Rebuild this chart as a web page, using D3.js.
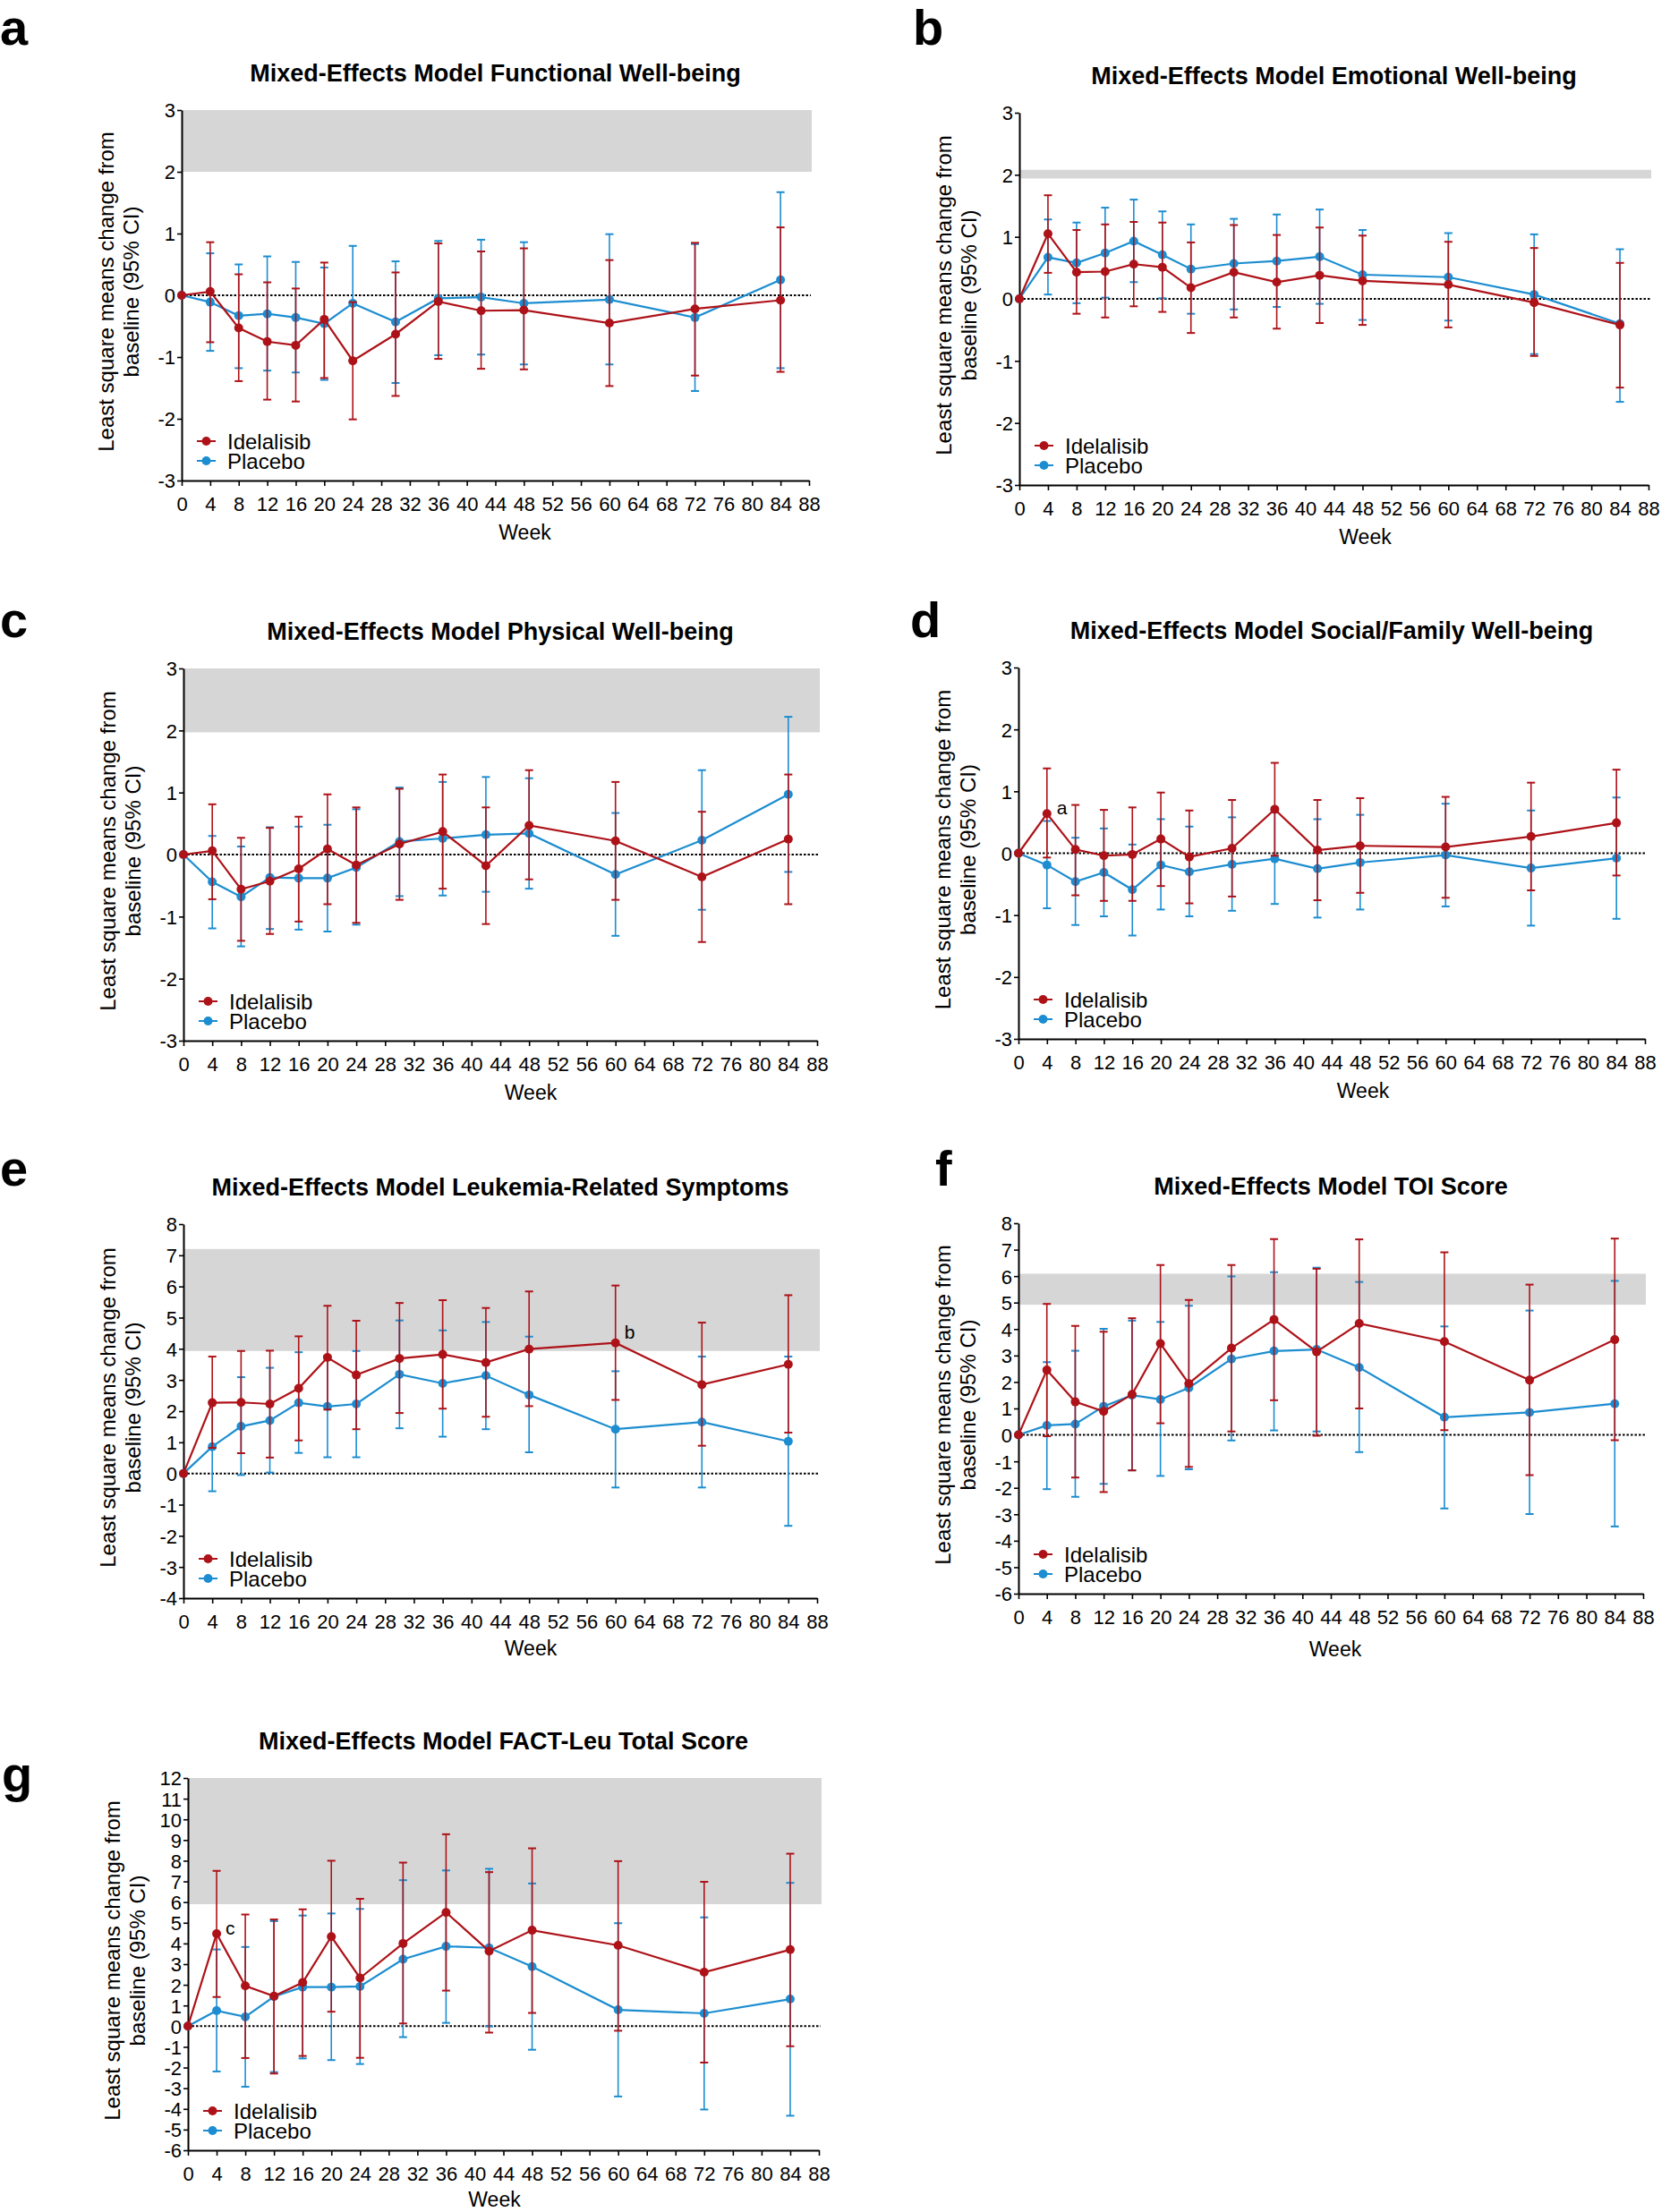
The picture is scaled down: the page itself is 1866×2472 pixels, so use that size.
<!DOCTYPE html>
<html><head><meta charset="utf-8">
<script src="https://cdn.jsdelivr.net/npm/d3@7/dist/d3.min.js"></script>
<style>
body{margin:0;background:#fff}
svg text{font-family:"Liberation Sans",Arial,Helvetica,sans-serif;fill:#000}
</style>
</head><body>
<svg id="chart" width="1866" height="2472"></svg>
<script>
// ---------- shared categories / ticks ----------
const weeks = [0,4,8,12,16,20,24,30,36,42,48,60,72,84];
const xTickValues = [0,4,8,12,16,20,24,28,32,36,40,44,48,52,56,60,64,68,72,76,80,84,88];
const seriesNames = ["Idelalisib","Placebo"];

// ---------- a: Functional Well-being ----------
const fwbIdeMean = [0,0.06,-0.53,-0.75,-0.81,-0.39,-1.06,-0.63,-0.10,-0.25,-0.24,-0.45,-0.22,-0.08];
const fwbIdeLo   = [0,-0.76,-1.39,-1.69,-1.72,-1.34,-2.01,-1.63,-1.03,-1.19,-1.20,-1.47,-1.30,-1.24];
const fwbIdeHi   = [0,0.86,0.34,0.21,0.11,0.53,-0.11,0.37,0.84,0.71,0.76,0.57,0.85,1.10];
const fwbPlaMean = [0,-0.11,-0.33,-0.30,-0.36,-0.46,-0.13,-0.43,-0.05,-0.03,-0.13,-0.07,-0.36,0.25];
const fwbPlaLo   = [0,-0.90,-1.18,-1.22,-1.25,-1.37,-1.06,-1.42,-0.97,-0.96,-1.12,-1.12,-1.55,-1.18];
const fwbPlaHi   = [0,0.68,0.50,0.63,0.54,0.45,0.80,0.55,0.88,0.90,0.86,0.99,0.83,1.67];

// ---------- b: Emotional Well-being ----------
const ewbIdeMean = [0,1.05,0.43,0.44,0.56,0.51,0.18,0.43,0.27,0.38,0.29,0.23,-0.06,-0.42];
const ewbIdeLo   = [0,0.42,-0.24,-0.30,-0.12,-0.21,-0.55,-0.30,-0.48,-0.39,-0.42,-0.46,-0.92,-1.43];
const ewbIdeHi   = [0,1.67,1.11,1.20,1.24,1.23,0.91,1.19,1.03,1.15,1.02,0.92,0.82,0.58];
const ewbPlaMean = [0,0.67,0.58,0.74,0.93,0.71,0.48,0.57,0.61,0.68,0.39,0.35,0.07,-0.40];
const ewbPlaLo   = [0,0.07,-0.07,0.02,0.27,0.01,-0.24,-0.17,-0.13,-0.08,-0.34,-0.35,-0.89,-1.66];
const ewbPlaHi   = [0,1.28,1.23,1.47,1.60,1.41,1.20,1.29,1.36,1.44,1.11,1.06,1.04,0.80];

// ---------- c: Physical Well-being ----------
const pwbIdeMean = [0,0.06,-0.56,-0.43,-0.23,0.09,-0.17,0.17,0.37,-0.18,0.47,0.22,-0.36,0.25];
const pwbIdeLo   = [0,-0.72,-1.39,-1.28,-1.08,-0.80,-1.10,-0.73,-0.55,-1.12,-0.40,-0.73,-1.41,-0.80];
const pwbIdeHi   = [0,0.81,0.27,0.43,0.61,0.97,0.76,1.06,1.29,0.76,1.36,1.17,0.69,1.29];
const pwbPlaMean = [0,-0.44,-0.68,-0.37,-0.38,-0.38,-0.21,0.21,0.26,0.32,0.34,-0.32,0.23,0.97];
const pwbPlaLo   = [0,-1.19,-1.48,-1.20,-1.21,-1.24,-1.13,-0.67,-0.66,-0.60,-0.55,-1.31,-0.89,-0.28];
const pwbPlaHi   = [0,0.30,0.13,0.44,0.45,0.48,0.73,1.08,1.17,1.25,1.23,0.67,1.36,2.22];

// ---------- d: Social/Family Well-being ----------
const swbIdeMean = [0,0.64,0.06,-0.04,-0.02,0.23,-0.06,0.08,0.71,0.05,0.12,0.10,0.27,0.49];
const swbIdeLo   = [0,-0.07,-0.68,-0.77,-0.77,-0.53,-0.81,-0.70,-0.04,-0.76,-0.64,-0.72,-0.60,-0.36];
const swbIdeHi   = [0,1.37,0.78,0.70,0.74,0.98,0.69,0.86,1.46,0.86,0.89,0.91,1.14,1.35];
const swbPlaMean = [0,-0.19,-0.46,-0.31,-0.59,-0.19,-0.30,-0.18,-0.09,-0.25,-0.15,-0.03,-0.24,-0.08];
const swbPlaLo   = [0,-0.89,-1.16,-1.02,-1.33,-0.91,-1.02,-0.93,-0.82,-1.04,-0.91,-0.86,-1.17,-1.06];
const swbPlaHi   = [0,0.52,0.25,0.40,0.14,0.55,0.43,0.58,0.66,0.55,0.62,0.80,0.69,0.90];

// ---------- e: Leukemia-Related Symptoms ----------
const lrsIdeMean = [0,2.27,2.28,2.23,2.73,3.72,3.16,3.69,3.82,3.56,3.99,4.19,2.85,3.50];
const lrsIdeLo   = [0,0.82,0.65,0.51,1.06,2.05,1.42,1.94,2.08,1.82,2.16,2.36,0.89,1.31];
const lrsIdeHi   = [0,3.75,3.93,3.94,4.40,5.38,4.90,5.47,5.56,5.31,5.84,6.03,4.84,5.72];
const lrsPlaMean = [0,0.86,1.51,1.70,2.27,2.15,2.23,3.18,2.89,3.14,2.52,1.42,1.65,1.03];
const lrsPlaLo   = [0,-0.57,-0.05,0.03,0.66,0.52,0.52,1.45,1.18,1.42,0.68,-0.45,-0.45,-1.68];
const lrsPlaHi   = [0,2.29,3.09,3.39,3.89,3.78,3.93,4.91,4.59,4.86,4.39,3.28,3.75,3.75];

// ---------- f: TOI Score ----------
const toiIdeMean = [0,2.45,1.25,0.89,1.53,3.45,1.94,3.28,4.36,3.14,4.21,3.53,2.07,3.60];
const toiIdeLo   = [0,-0.05,-1.61,-2.16,-1.34,0.44,-1.21,0.13,1.31,-0.03,1.00,0.18,-1.52,-0.20];
const toiIdeHi   = [0,4.95,4.12,3.90,4.41,6.42,5.10,6.42,7.40,6.28,7.39,6.90,5.68,7.42];
const toiPlaMean = [0,0.36,0.41,1.08,1.50,1.34,1.78,2.87,3.17,3.23,2.55,0.67,0.85,1.18];
const toiPlaLo   = [0,-2.05,-2.34,-1.85,-1.34,-1.55,-1.30,-0.21,0.17,0.13,-0.65,-2.78,-2.99,-3.46];
const toiPlaHi   = [0,2.75,3.18,4.01,4.32,4.27,4.88,5.99,6.15,6.32,5.78,4.10,4.70,5.82];

// ---------- g: FACT-Leu Total Score ----------
const totIdeMean = [0,4.47,1.95,1.45,2.11,4.33,2.33,4.00,5.50,3.63,4.64,3.91,2.61,3.70];
const totIdeLo   = [0,1.41,-1.54,-2.29,-1.44,0.70,-1.53,0.13,1.72,-0.31,0.64,-0.22,-1.76,-0.97];
const totIdeHi   = [0,7.51,5.40,5.16,5.65,8.00,6.16,7.91,9.28,7.45,8.60,7.98,6.98,8.34];
const totPlaMean = [0,0.75,0.45,1.43,1.89,1.89,1.92,3.24,3.86,3.79,2.88,0.79,0.62,1.31];
const totPlaLo   = [0,-2.19,-2.93,-2.22,-1.56,-1.64,-1.83,-0.53,0.16,-0.01,-1.14,-3.40,-4.03,-4.33];
const totPlaHi   = [0,3.71,3.83,5.08,5.35,5.45,5.67,7.06,7.53,7.61,6.90,4.98,5.26,6.93];

// ---------- y ticks ----------
const yTicks3  = [-3,-2,-1,0,1,2,3];
const yTicksE  = [-4,-3,-2,-1,0,1,2,3,4,5,6,7,8];
const yTicksF  = [-6,-5,-4,-3,-2,-1,0,1,2,3,4,5,6,7,8];
const yTicksG  = [-6,-5,-4,-3,-2,-1,0,1,2,3,4,5,6,7,8,9,10,11,12];

// ---------- style & layout ----------
const RED = "#ad1218", BLUE = "#1c8dd0", BAND = "#d6d6d6";

const panels = [
  {letter:"a", title:"Mixed-Effects Model Functional Well-being",
   ide:[fwbIdeMean,fwbIdeLo,fwbIdeHi], pla:[fwbPlaMean,fwbPlaLo,fwbPlaHi],
   yTicks:yTicks3, band:[2,3], box:{l:203,r:904,t:123,b:537}, lp:[0,50], weekDx:33, weekDy:66},
  {letter:"b", title:"Mixed-Effects Model Emotional Well-being",
   ide:[ewbIdeMean,ewbIdeLo,ewbIdeHi], pla:[ewbPlaMean,ewbPlaLo,ewbPlaHi],
   yTicks:yTicks3, band:[1.94,2.08], box:{l:1139,r:1842,t:126,b:542}, lp:[1020,50], weekDx:35, weekDy:66},
  {letter:"c", title:"Mixed-Effects Model Physical Well-being",
   ide:[pwbIdeMean,pwbIdeLo,pwbIdeHi], pla:[pwbPlaMean,pwbPlaLo,pwbPlaHi],
   yTicks:yTicks3, band:[1.97,3], box:{l:205,r:913,t:747,b:1163}, lp:[0,712], weekDx:34, weekDy:66},
  {letter:"d", title:"Mixed-Effects Model Social/Family Well-being",
   ide:[swbIdeMean,swbIdeLo,swbIdeHi], pla:[swbPlaMean,swbPlaLo,swbPlaHi],
   yTicks:yTicks3, band:null, box:{l:1138,r:1838,t:746,b:1161}, lp:[1017,712], weekDx:35, weekDy:66,
   note:{text:"a", i:1, dx:11, dy:1}},
  {letter:"e", title:"Mixed-Effects Model Leukemia-Related Symptoms",
   ide:[lrsIdeMean,lrsIdeLo,lrsIdeHi], pla:[lrsPlaMean,lrsPlaLo,lrsPlaHi],
   yTicks:yTicksE, band:[3.93,7.2], box:{l:205,r:913,t:1368,b:1786}, lp:[0,1325], weekDx:34, weekDy:64,
   note:{text:"b", i:11, dx:10, dy:-5}},
  {letter:"f", title:"Mixed-Effects Model TOI Score",
   ide:[toiIdeMean,toiIdeLo,toiIdeHi], pla:[toiPlaMean,toiPlaLo,toiPlaHi],
   yTicks:yTicksF, band:[4.92,6.09], box:{l:1138,r:1836,t:1367,b:1781}, lp:[1045,1325], weekDx:5, weekDy:70},
  {letter:"g", title:"Mixed-Effects Model FACT-Leu Total Score",
   ide:[totIdeMean,totIdeLo,totIdeHi], pla:[totPlaMean,totPlaLo,totPlaHi],
   yTicks:yTicksG, band:[5.9,12], box:{l:210,r:915,t:1987,b:2403}, lp:[2,2002], weekDx:-10, weekDy:63,
   note:{text:"c", i:1, dx:10, dy:1}}
];

const svg = d3.select("#chart");
svg.append("rect").attr("width",1866).attr("height",2472).attr("fill","#fff");

panels.forEach(p => {
  const B = p.box;
  const yd = d3.extent(p.yTicks);
  const x = d3.scaleLinear().domain([0,88]).range([B.l,B.r]);
  const y = d3.scaleLinear().domain(yd).range([B.b,B.t]);
  const g = svg.append("g");

  // panel letter
  g.append("text").attr("x",p.lp[0]).attr("y",p.lp[1])
    .attr("font-size",56).attr("font-weight","bold").text(p.letter);

  // title
  g.append("text").attr("x",(B.l+B.r)/2).attr("y",B.t-32)
    .attr("text-anchor","middle").attr("font-size",27).attr("font-weight","bold")
    .text(p.title);

  // band
  if (p.band) {
    g.append("rect").attr("x",x(0)).attr("width",x(88)-x(0)+3)
      .attr("y",y(p.band[1])).attr("height",y(p.band[0])-y(p.band[1]))
      .attr("fill",BAND);
  }

  // zero line
  g.append("line").attr("x1",x(0)).attr("x2",x(88)+2).attr("y1",y(0)).attr("y2",y(0))
    .attr("stroke","#000").attr("stroke-width",2).attr("stroke-dasharray","2.5,2");

  // axes
  const fmt = d => String(d);
  const ax = g.append("g").attr("transform",`translate(0,${B.b})`)
    .call(d3.axisBottom(x).tickValues(xTickValues).tickFormat(fmt).tickSize(6).tickSizeOuter(0).tickPadding(12));
  const ay = g.append("g").attr("transform",`translate(${B.l},0)`)
    .call(d3.axisLeft(y).tickValues(p.yTicks).tickFormat(fmt).tickSize(5).tickSizeOuter(0).tickPadding(2));
  [ax,ay].forEach(a => {
    a.select(".domain").attr("stroke","#000").attr("stroke-width",2);
    a.selectAll(".tick line").attr("stroke","#000").attr("stroke-width",1.6);
    a.selectAll(".tick text").attr("font-size",22).attr("font-family","'Liberation Sans',Arial,sans-serif").attr("fill","#000");
  });
  ay.selectAll(".tick text").attr("dy","0.36em");

  // axis labels
  g.append("text").attr("x",(B.l+B.r)/2 + p.weekDx).attr("y",B.b+p.weekDy)
    .attr("text-anchor","middle").attr("font-size",23).text("Week");
  const cy = (B.t+B.b)/2 - 4;
  g.append("text").attr("transform",`translate(${B.l-76},${cy}) rotate(-90)`)
    .attr("text-anchor","middle").attr("font-size",24).text("Least square means change from");
  g.append("text").attr("transform",`translate(${B.l-48},${cy}) rotate(-90)`)
    .attr("text-anchor","middle").attr("font-size",24).text("baseline (95% CI)");

  // series: placebo first, idelalisib on top
  const series = [{d:p.pla, c:BLUE}, {d:p.ide, c:RED}];
  series.forEach(s => {
    const [mean, lo, hi] = s.d;
    const pts = weeks.map((w,i) => ({w, m:mean[i], lo:lo[i], hi:hi[i]}));
    const sg = g.append("g");
    const eb = pts.filter(d => d.hi !== d.lo);
    sg.selectAll("line.eb").data(eb).join("line")
      .attr("x1",d=>x(d.w)).attr("x2",d=>x(d.w)).attr("y1",d=>y(d.lo)).attr("y2",d=>y(d.hi))
      .attr("stroke",s.c).attr("stroke-width",1.6);
    sg.selectAll("line.caph").data(eb).join("line")
      .attr("x1",d=>x(d.w)-4.5).attr("x2",d=>x(d.w)+4.5).attr("y1",d=>y(d.hi)).attr("y2",d=>y(d.hi))
      .attr("stroke",s.c).attr("stroke-width",2);
    sg.selectAll("line.capl").data(eb).join("line")
      .attr("x1",d=>x(d.w)-4.5).attr("x2",d=>x(d.w)+4.5).attr("y1",d=>y(d.lo)).attr("y2",d=>y(d.lo))
      .attr("stroke",s.c).attr("stroke-width",2);
    sg.append("path").datum(pts)
      .attr("d", d3.line().x(d=>x(d.w)).y(d=>y(d.m)))
      .attr("fill","none").attr("stroke",s.c).attr("stroke-width",2.2);
    sg.selectAll("circle").data(pts).join("circle")
      .attr("cx",d=>x(d.w)).attr("cy",d=>y(d.m)).attr("r",5).attr("fill",s.c);
  });

  // annotation
  if (p.note) {
    const i = p.note.i;
    g.append("text").attr("x",x(weeks[i])+p.note.dx).attr("y",y(p.ide[0][i])+p.note.dy)
      .attr("font-size",21).text(p.note.text);
  }

  // legend
  const leg = [{n:seriesNames[0],c:RED,dy:-44},{n:seriesNames[1],c:BLUE,dy:-22}];
  leg.forEach(L => {
    const ly = B.b + L.dy;
    g.append("line").attr("x1",B.l+17).attr("x2",B.l+38).attr("y1",ly).attr("y2",ly)
      .attr("stroke",L.c).attr("stroke-width",2);
    g.append("circle").attr("cx",B.l+27.5).attr("cy",ly).attr("r",5).attr("fill",L.c);
    g.append("text").attr("x",B.l+51).attr("y",ly+8.5).attr("font-size",24).text(L.n);
  });
});
</script>
</body></html>
